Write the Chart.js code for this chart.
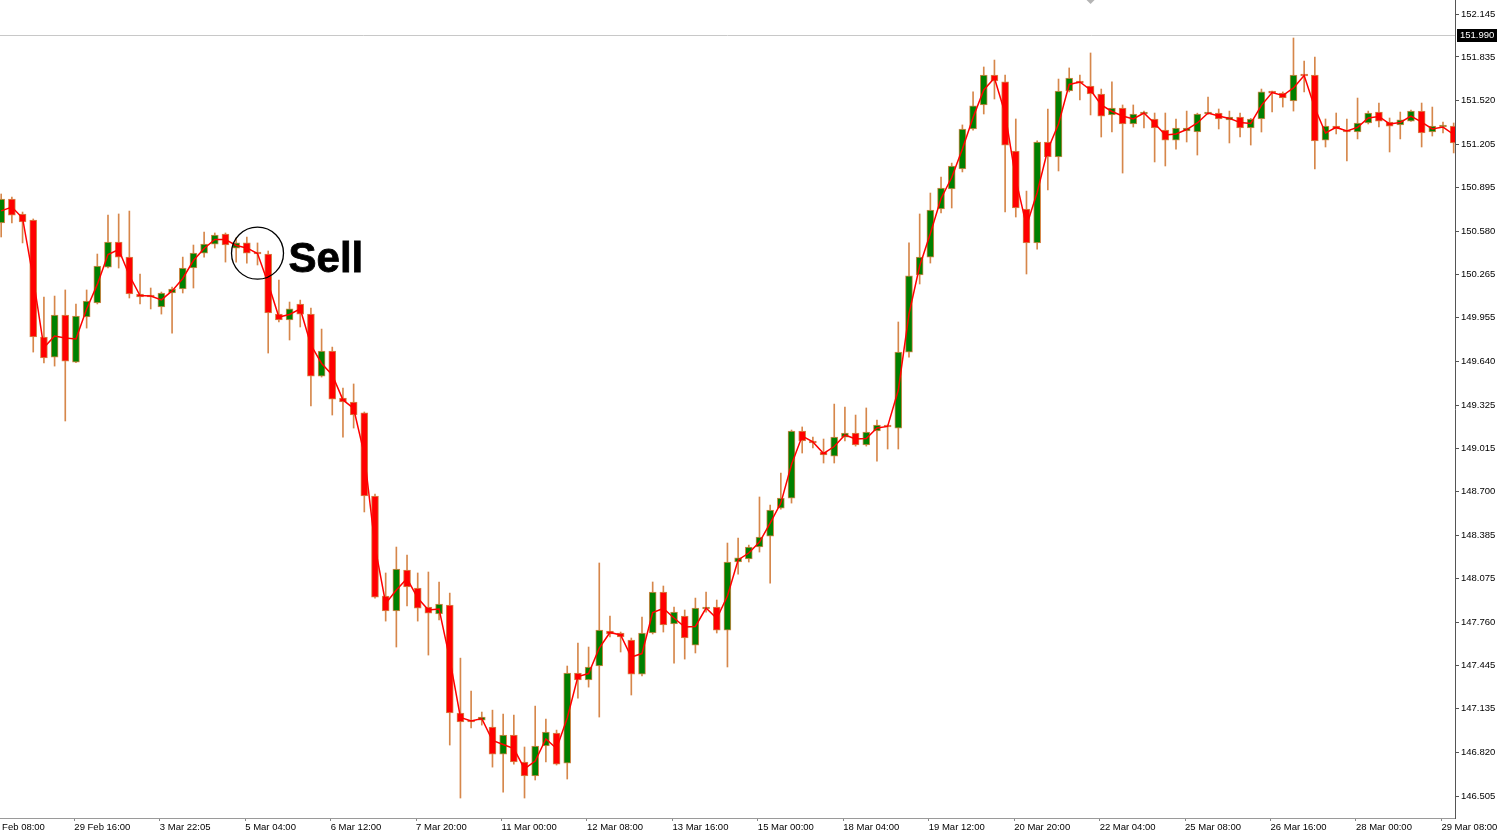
<!DOCTYPE html>
<html><head><meta charset="utf-8">
<script src="https://cdn.jsdelivr.net/npm/chart.js@4/dist/chart.umd.min.js"></script>
<style>html,body{margin:0;padding:0;background:#fff;overflow:hidden}canvas{display:block}</style>
</head><body>
<canvas id="c" width="1497" height="834"></canvas>
<script>
const opens = [
150.638,150.811,150.703,150.659,149.816,149.671,149.974,149.635,149.960,150.061,
150.320,150.501,150.392,150.126,150.118,150.032,150.133,150.162,150.313,150.421,
150.486,150.558,150.457,150.494,150.421,150.414,149.981,149.938,150.054,149.981,
149.534,149.715,149.376,149.347,149.268,148.669,147.948,147.840,148.135,148.005,
147.868,147.818,147.883,147.104,147.053,147.053,147.003,146.808,146.945,146.751,
146.650,146.866,146.960,146.743,147.392,147.342,147.443,147.695,147.681,147.630,
147.385,147.681,147.976,147.746,147.803,147.594,147.854,147.868,147.702,148.193,
148.215,148.301,148.380,148.582,148.654,149.138,149.066,148.986,148.957,149.094,
149.123,149.037,149.138,149.174,149.159,149.707,150.263,150.392,150.739,150.883,
151.027,151.316,151.489,151.705,151.655,151.157,150.739,150.494,151.222,151.114,
151.590,151.662,151.626,151.568,151.417,151.467,151.352,151.424,151.388,151.308,
151.236,151.301,151.294,151.424,151.431,151.381,151.402,151.323,151.388,151.583,
151.575,151.518,151.705,151.705,151.236,151.337,151.308,151.294,151.359,151.438,
151.366,151.345,151.373,151.445,151.294,151.330,151.337];
const highs = [
150.847,150.825,150.717,150.667,150.104,150.111,150.155,150.054,150.155,150.414,
150.695,150.703,150.724,150.270,150.169,150.140,150.176,150.392,150.479,150.573,
150.566,150.566,150.530,150.537,150.494,150.436,150.227,150.068,150.082,150.025,
149.873,149.743,149.448,149.477,149.275,148.683,148.114,148.301,148.243,148.114,
148.121,148.049,147.969,147.500,147.263,147.111,147.125,147.097,147.089,146.859,
147.154,147.061,146.981,147.443,147.609,147.580,148.186,147.803,147.688,147.645,
147.796,148.049,148.020,147.868,147.847,147.933,147.976,147.919,148.330,148.366,
148.315,148.662,148.604,148.835,149.145,149.167,149.094,149.080,149.332,149.311,
149.253,149.304,149.217,149.181,149.924,150.494,150.703,150.854,150.969,151.070,
151.345,151.583,151.763,151.813,151.705,151.388,150.868,151.230,151.460,151.676,
151.756,151.705,151.864,151.604,151.655,151.489,151.489,151.445,151.431,151.431,
151.388,151.445,151.430,151.546,151.460,151.445,151.431,151.392,151.604,151.590,
151.583,151.972,151.806,151.835,151.388,151.431,151.388,151.539,151.445,151.503,
151.395,151.438,151.453,151.503,151.474,151.366,151.359];
const lows = [
150.537,150.638,150.494,149.707,149.628,149.606,149.210,149.630,149.880,150.054,
150.313,150.313,150.097,150.054,150.018,149.981,149.844,150.133,150.169,150.392,
150.457,150.356,150.356,150.349,150.335,149.700,149.924,149.794,149.888,149.318,
149.527,149.253,149.094,149.159,148.554,147.933,147.767,147.580,147.876,147.767,
147.522,147.775,146.873,146.491,146.996,147.017,146.714,146.534,146.736,146.491,
146.621,146.751,146.729,146.628,147.212,147.291,147.075,147.652,147.544,147.234,
147.371,147.674,147.688,147.464,147.493,147.537,147.832,147.681,147.436,148.106,
148.193,148.265,148.041,148.575,148.618,148.979,149.015,148.907,148.907,149.066,
149.029,149.029,148.921,149.008,149.008,149.671,150.198,150.349,150.710,150.746,
151.006,151.308,151.424,151.532,150.717,150.681,150.270,150.450,150.876,151.013,
151.583,151.525,151.417,151.258,151.294,150.998,151.330,151.323,151.078,151.049,
151.171,151.222,151.128,151.420,151.316,151.215,151.258,151.200,151.294,151.438,
151.474,151.445,151.583,151.027,151.186,151.280,151.085,151.244,151.352,151.330,
151.150,151.244,151.370,151.186,151.265,151.287,151.143];
const closes = [
150.811,150.695,150.645,149.816,149.664,149.974,149.642,149.967,150.075,150.328,
150.501,150.392,150.126,150.104,150.104,150.133,150.162,150.313,150.421,150.486,
150.551,150.479,150.494,150.421,150.414,149.989,149.938,150.018,149.981,149.534,
149.715,149.368,149.347,149.253,148.669,147.940,147.840,148.142,148.013,147.861,
147.825,147.890,147.104,147.039,147.039,147.075,146.808,146.945,146.751,146.650,
146.866,146.967,146.736,147.392,147.342,147.436,147.702,147.674,147.652,147.385,
147.681,147.976,147.739,147.832,147.645,147.861,147.868,147.702,148.193,148.223,
148.301,148.373,148.568,148.654,149.138,149.066,149.051,148.965,149.094,149.123,
149.037,149.130,149.181,149.167,149.707,150.256,150.392,150.731,150.890,151.049,
151.316,151.482,151.705,151.662,151.200,150.746,150.494,151.222,151.114,151.590,
151.683,151.647,151.568,151.409,151.467,151.352,151.424,151.438,151.323,151.236,
151.323,151.323,151.424,151.438,151.388,151.402,151.323,151.388,151.583,151.575,
151.539,151.705,151.698,151.229,151.337,151.316,151.294,151.359,151.431,151.373,
151.337,151.381,151.445,151.287,151.337,151.331,151.215];
const lineValues = [
150.725,150.753,150.674,150.238,149.740,149.823,149.808,149.801,150.018,150.195,
150.411,150.447,150.259,150.115,150.111,150.083,150.148,150.238,150.367,150.454,
150.519,150.519,150.476,150.458,150.418,150.202,149.960,149.978,150.018,149.758,
149.625,149.542,149.362,149.300,148.969,148.305,147.894,147.991,148.074,147.933,
147.847,147.854,147.494,147.072,147.046,147.064,146.906,146.877,146.848,146.701,
146.758,146.917,146.848,147.068,147.367,147.389,147.573,147.685,147.667,147.508,
147.533,147.829,147.858,147.789,147.724,147.728,147.861,147.785,147.948,148.208,
148.258,148.337,148.474,148.618,148.896,149.102,149.059,148.976,149.026,149.109,
149.080,149.084,149.160,149.171,149.433,149.982,150.328,150.562,150.815,150.966,
151.172,151.399,151.597,151.684,151.428,150.952,150.617,150.858,151.168,151.352,
151.637,151.655,151.597,151.489,151.442,151.410,151.388,151.431,151.356,151.272,
151.280,151.312,151.359,151.431,151.410,151.392,151.363,151.356,151.486,151.579,
151.557,151.612,151.702,151.467,151.287,151.327,151.301,151.327,151.395,151.406,
151.352,151.363,151.409,151.366,151.316,151.330,151.276];
const timeLabels = ['28 Feb 08:00','29 Feb 16:00','3 Mar 22:05','5 Mar 04:00','6 Mar 12:00','7 Mar 20:00',
'11 Mar 00:00','12 Mar 08:00','13 Mar 16:00','15 Mar 00:00','18 Mar 04:00','19 Mar 12:00','20 Mar 20:00',
'22 Mar 04:00','25 Mar 08:00','26 Mar 16:00','28 Mar 00:00','29 Mar 08:00'];
const priceTicks = [152.145,151.835,151.520,151.205,150.895,150.580,150.265,149.955,149.640,149.325,
149.015,148.700,148.385,148.075,147.760,147.445,147.135,146.820,146.505];
const bidPrice = 151.990;
const signalText = 'Sell';
const signalBar = 24;
const signalPrice = 150.42;
const markerBar = 102;

const UP = 'rgb(0,128,0)', DOWN = 'rgb(255,0,0)', WICK = 'rgb(214,135,75)';
const bodies = opens.map((o,i)=>({x:i, y:[o, closes[i]]}));
const wicks = lows.map((l,i)=>({x:i, y:[l, highs[i]]}));
const colors = opens.map((o,i)=> closes[i] >= o ? UP : DOWN);
const linePts = lineValues.map((v,i)=>({x:i, y:v}));
const AXIS_FONT = {family:'"Liberation Sans", Arial, sans-serif', size:9.5};

const annot = {
  id:'annot',
  beforeDatasetsDraw(chart){
    const {ctx, chartArea:a, scales:{y}} = chart;
    const py = Math.round(y.getPixelForValue(bidPrice)) + 0.5;
    ctx.save();
    ctx.strokeStyle = '#c8c8c8'; ctx.lineWidth = 1;
    ctx.beginPath(); ctx.moveTo(a.left, py); ctx.lineTo(a.right, py); ctx.stroke();
    ctx.restore();
  },
  afterDraw(chart){
    const {ctx, chartArea:a, scales:{x,y}} = chart;
    ctx.save();
    const py = Math.round(y.getPixelForValue(bidPrice));
    ctx.fillStyle = '#000';
    ctx.fillRect(a.right + 2, py - 6, chart.width - a.right - 2, 13);
    ctx.fillStyle = '#fff';
    ctx.font = '9.5px "Liberation Sans", Arial, sans-serif';
    ctx.textBaseline = 'middle'; ctx.textAlign = 'left';
    ctx.fillText(bidPrice.toFixed(3), a.right + 5, py + 0.5);
    const cx = x.getPixelForValue(signalBar), cy = y.getPixelForValue(signalPrice);
    ctx.strokeStyle = '#000'; ctx.lineWidth = 1.3;
    ctx.beginPath(); ctx.arc(cx, cy, 26, 0, Math.PI*2); ctx.stroke();
    ctx.fillStyle = '#000';
    ctx.font = 'bold 42px "Liberation Sans", Arial, sans-serif';
    ctx.textBaseline = 'alphabetic';
    ctx.fillText(signalText, cx + 31, cy + 19);
    ctx.lineWidth = 0.8; ctx.strokeText(signalText, cx + 31, cy + 19);
    const mx = x.getPixelForValue(markerBar);
    ctx.fillStyle = '#b4b4b4';
    ctx.beginPath(); ctx.moveTo(mx-4, a.top); ctx.lineTo(mx+4, a.top); ctx.lineTo(mx, a.top+4); ctx.closePath(); ctx.fill();
    ctx.restore();
  }
};

new Chart(document.getElementById('c'), {
  data: {
    datasets: [
      {type:'line', data: linePts, borderColor:'rgb(255,0,0)', borderWidth:1.5, pointRadius:0, tension:0, order:0},
      {type:'bar', data: bodies, backgroundColor: colors, borderColor: WICK, borderWidth:1, borderSkipped:false,
       barThickness:7, minBarLength:2, grouped:false, order:1},
      {type:'bar', data: wicks, backgroundColor: WICK, borderWidth:0, barThickness:1, grouped:false, order:2}
    ]
  },
  options: {
    responsive:false, animation:false, devicePixelRatio:1,
    layout:{padding:0},
    plugins:{legend:{display:false}, tooltip:{enabled:false}},
    scales:{
      x:{type:'linear', offset:false, min:-0.112, max:136.124,
        grid:{drawOnChartArea:false, drawTicks:true, tickLength:3, color:'#888', offset:false},
        border:{display:true, color:'#9a9a9a', width:1},
        afterBuildTicks(s){ s.ticks = timeLabels.map((t,k)=>({value: 8*k - 1.15})); },
        ticks:{autoSkip:false, maxRotation:0, align:'start', padding:1, color:'#000', font:AXIS_FONT,
          callback:(v,i)=>timeLabels[i]},
        afterFit(s){ s.height = 16; s.paddingLeft = 0; s.paddingRight = 0; }
      },
      y:{type:'linear', position:'right', min:146.347, max:152.246,
        grid:{drawOnChartArea:false, drawTicks:true, tickLength:4, color:'#555'},
        border:{display:true, color:'#555', width:1},
        afterBuildTicks(s){ s.ticks = priceTicks.map(v=>({value:v})); },
        ticks:{autoSkip:false, padding:2, color:'#000', font:AXIS_FONT, callback:v=>v.toFixed(3)},
        afterFit(s){ s.width = 42; s.paddingTop = 0; s.paddingBottom = 0; }
      }
    }
  },
  plugins:[annot]
});
</script>
</body></html>
